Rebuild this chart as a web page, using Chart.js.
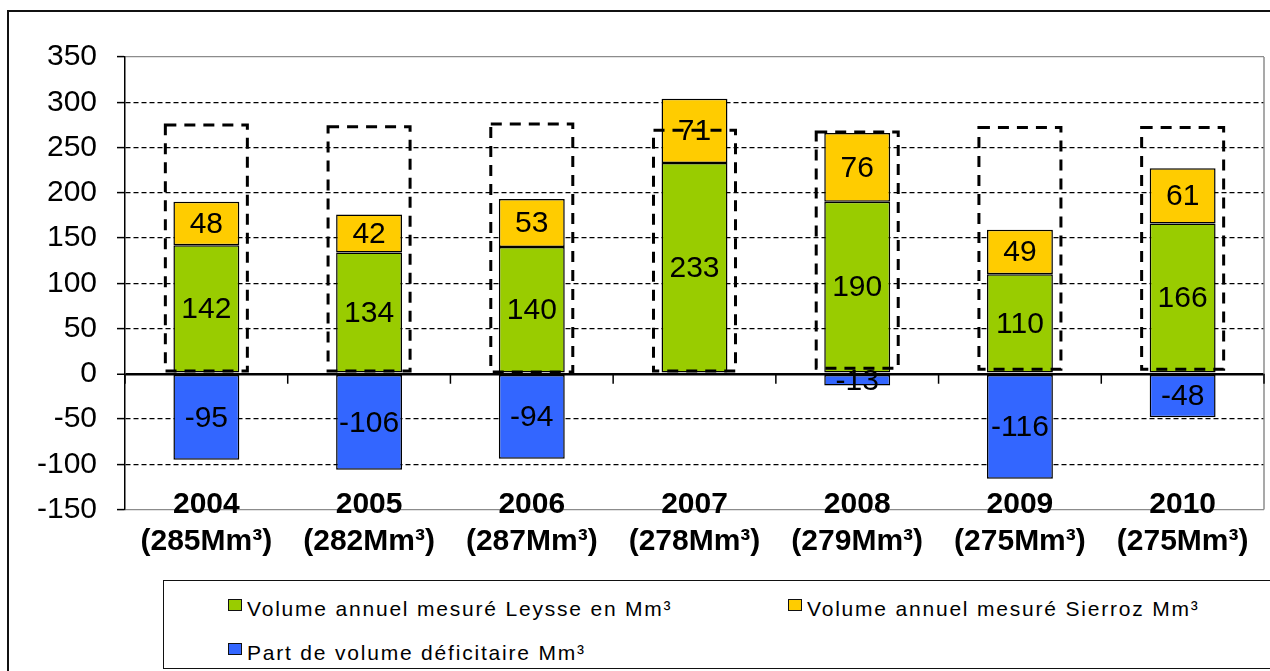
<!DOCTYPE html>
<html>
<head>
<meta charset="utf-8">
<script src="https://cdn.jsdelivr.net/npm/chart.js@4"></script>
<style>
  html, body { margin: 0; padding: 0; background: #fff; overflow: hidden; }
  #wrap { position: relative; width: 1270px; height: 671px; overflow: hidden; }
  #chart { position: absolute; left: 0; top: 0; }
  #frame { position: absolute; left: 7px; top: 10px; width: 1300px; height: 700px; border: 2px solid #111; }
  #legend { position: absolute; left: 163px; top: 580px; width: 1200px; height: 89px;
            border: 1.5px solid #111; box-sizing: border-box; background: #fff;
            font-family: "Liberation Sans", Arial, sans-serif; font-size: 21px; letter-spacing: 1.8px; color: #000; }
  .item { position: absolute; line-height: 24px; white-space: nowrap; }
  .sw { position: absolute; width: 14px; height: 12px; border: 1.5px solid #111; box-sizing: border-box; }
</style>
</head>
<body>
<div id="wrap">
  <div id="frame"></div>
  <canvas id="chart" width="1270" height="671"></canvas>
  <div id="legend"></div>
</div>
<script>
// values
const years = ['2004', '2005', '2006', '2007', '2008', '2009', '2010'];
const totals = ['285', '282', '287', '278', '279', '275', '275'];
const leysse = [142, 134, 140, 233, 190, 110, 166];
const sierroz = [48, 42, 53, 71, 76, 49, 61];
const deficit = [-95, -106, -94, null, -13, -116, -48];
const boxLow = [3, 3, 2, 3, 6, 5, 5];
const boxHigh = [275, 273, 276, 269, 267, 272, 272];
const seriesNames = ['Volume annuel mesuré Leysse en Mm³', 'Volume annuel mesuré Sierroz Mm³', 'Part de volume déficitaire Mm³'];
const seriesColors = ['#99CC00', '#FFCC00', '#3366FF'];

const FONT = '"Liberation Sans", Arial, sans-serif';

const overlay = {
  id: 'overlay',
  beforeDatasetsDraw(chart) {
    const { ctx, chartArea: a, scales: { x, y } } = chart;
    ctx.save();
    ctx.strokeStyle = '#8c8c8c';
    ctx.lineWidth = 1.5;
    ctx.beginPath();
    ctx.moveTo(a.right, a.top);
    ctx.lineTo(a.right, a.bottom);
    ctx.stroke();
    // small ticks under the zero line at category boundaries
    const y0 = y.getPixelForValue(0);
    ctx.strokeStyle = '#000';
    ctx.lineWidth = 1.5;
    for (let i = 0; i <= years.length; i++) {
      const px = x.getPixelForValue(i - 0.5);
      ctx.beginPath();
      ctx.moveTo(px, y0);
      ctx.lineTo(px, y0 + 10);
      ctx.stroke();
    }
    ctx.restore();
  },
  afterDatasetsDraw(chart) {
    const { ctx, chartArea: a, scales: { x } } = chart;
    ctx.save();
    // value labels inside the stacked bars
    ctx.font = '30px ' + FONT;
    ctx.fillStyle = '#000';
    ctx.textAlign = 'center';
    ctx.textBaseline = 'middle';
    [0, 1, 2].forEach(di => {
      const ds = chart.data.datasets[di];
      chart.getDatasetMeta(di).data.forEach((el, i) => {
        const v = ds.data[i];
        if (v === null) return;
        ctx.fillText(String(v), el.x, (el.y + el.base) / 2 + 1);
      });
    });
    // dashed total boxes
    ctx.strokeStyle = '#000';
    ctx.lineWidth = 3;
    ctx.setLineDash([11, 8]);
    chart.getDatasetMeta(3).data.forEach(el => {
      const w = el.width;
      ctx.strokeRect(el.x - w / 2, el.y, w, el.base - el.y);
    });
    ctx.setLineDash([]);
    // category labels, sitting partly over the bottom of the plot as in Excel
    ctx.font = 'bold 30px ' + FONT;
    years.forEach((yr, i) => {
      const px = x.getPixelForValue(i);
      ctx.fillText(yr, px, a.bottom - 5);
      ctx.fillText('(' + totals[i] + 'Mm³)', px, a.bottom + 32);
    });
    ctx.restore();
  }
};

new Chart(document.getElementById('chart'), {
  type: 'bar',
  data: {
    labels: years,
    datasets: [
      { label: seriesNames[0], data: leysse, backgroundColor: seriesColors[0], stack: 'v' },
      { label: seriesNames[1], data: sierroz, backgroundColor: seriesColors[1], stack: 'v' },
      { label: seriesNames[2], data: deficit, backgroundColor: seriesColors[2], stack: 'v' },
      {
        label: 'total', data: boxLow.map((lo, i) => [lo, boxHigh[i]]), stack: 'box',
        grouped: false, barPercentage: 0.504, backgroundColor: 'rgba(0,0,0,0)', borderWidth: 0
      }
    ]
  },
  options: {
    responsive: false,
    animation: false,
    devicePixelRatio: 1,
    layout: { padding: { left: 37, top: 57, right: 6, bottom: 101.5 } },
    datasets: {
      bar: {
        categoryPercentage: 1,
        barPercentage: 0.405,
        borderColor: '#000',
        borderWidth: 1.5,
        borderSkipped: false
      }
    },
    plugins: { legend: { display: false }, tooltip: { enabled: false } },
    scales: {
      x: {
        grid: { display: false, drawTicks: false },
        border: { display: false },
        afterFit: s => { s.height = 60; },
        ticks: { display: false }
      },
      y: {
        stacked: true,
        min: -150,
        max: 350,
        afterFit: s => { s.width = 88; },
        ticks: { stepSize: 50, color: '#000', padding: 20, font: { family: FONT, size: 30 } },
        grid: {
          color: c => (c.tick && (c.tick.value === 350 || c.tick.value === -150)) ? '#8c8c8c' : '#000',
          lineWidth: c => (c.tick && c.tick.value === 0) ? 2.5 : 1.2,
          tickColor: '#000',
          tickWidth: 1.5,
          tickLength: 8
        },
        border: {
          display: true,
          color: '#000',
          width: 1.5,
          dash: c => (c.tick && [0, 350, -150].indexOf(c.tick.value) === -1) ? [5, 3] : []
        }
      }
    }
  },
  plugins: [overlay]
});

// legend box
const legend = document.getElementById('legend');
const spots = [[64, 18, 83], [624, 18, 643], [64, 62, 83]];
seriesNames.forEach((name, i) => {
  const [sx, sy, tx] = spots[i];
  const sw = document.createElement('div');
  sw.className = 'sw';
  sw.style.left = sx + 'px';
  sw.style.top = sy + 'px';
  sw.style.background = seriesColors[i];
  legend.appendChild(sw);
  const t = document.createElement('div');
  t.className = 'item';
  t.style.left = tx + 'px';
  t.style.top = (sy - 2) + 'px';
  t.textContent = name;
  legend.appendChild(t);
});
</script>
</body>
</html>
